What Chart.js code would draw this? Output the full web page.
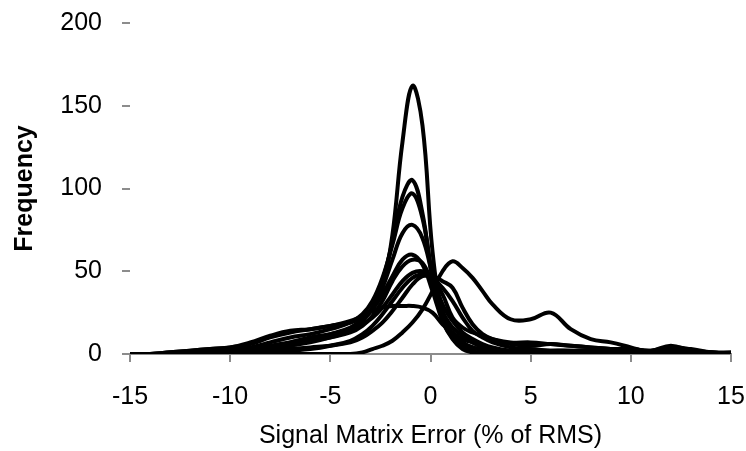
<!DOCTYPE html>
<html>
<head>
<meta charset="utf-8">
<script src="https://cdn.jsdelivr.net/npm/chart.js@4/dist/chart.umd.min.js"></script>
<style>
  html, body { margin: 0; padding: 0; background: #fff; }
  #wrap { width: 746px; height: 451px; }
</style>
</head>
<body>
<div id="wrap"><canvas id="myChart"></canvas></div>
<script>
// error bins (% of RMS)
const xs = [-15, -14, -13, -12, -11, -10, -9, -8, -7, -6, -5, -4,
    -3.4, -2.9, -2.4, -1.9, -1.4, -0.9, -0.4, 0.1, 0.6, 1.1, 1.6, 2.1, 2.6, 3.1,
    4, 5, 6, 7, 8, 9, 10, 11, 12, 13, 14, 15];

// frequency per run
const run1 = [0, 0, 0, 0, 1, 2, 3, 5, 7, 9, 12, 16, 21, 27, 40, 72, 128, 162, 138, 62, 24, 12, 7, 4, 3, 2, 1, 1, 0, 0, 0, 0, 0, 0, 0, 0, 0, 0];
const run2 = [0, 0, 0, 0, 0, 1, 2, 3, 5, 7, 10, 14, 20, 28, 44, 68, 95, 105, 85, 45, 20, 10, 6, 4, 2, 1, 1, 1, 1, 0, 0, 0, 0, 0, 0, 0, 0, 0];
const run3 = [0, 0, 0, 0, 1, 2, 4, 7, 10, 12, 15, 19, 24, 32, 46, 66, 88, 97, 82, 48, 26, 16, 11, 7, 4, 2, 1, 1, 1, 1, 0, 0, 0, 0, 0, 0, 0, 0];
const run4 = [0, 0, 0, 0, 0, 1, 2, 3, 5, 8, 11, 15, 20, 28, 40, 57, 73, 78, 70, 48, 30, 20, 13, 9, 6, 4, 2, 1, 1, 1, 1, 0, 0, 0, 0, 0, 0, 0];
const run5 = [0, 0, 1, 2, 3, 4, 6, 10, 13, 15, 17, 19, 22, 27, 36, 47, 57, 60, 54, 38, 20, 9, 3, 1, 0, 0, 0, 0, 0, 0, 0, 0, 0, 0, 0, 0, 0, 0];
const run6 = [0, 0, 0, 0, 0, 1, 2, 4, 6, 8, 10, 13, 17, 23, 32, 44, 53, 57, 55, 42, 24, 12, 5, 2, 0, 0, 0, 0, 0, 0, 0, 0, 0, 0, 0, 0, 0, 0];
const run7 = [0, 0, 0, 0, 0, 1, 2, 4, 7, 10, 12, 15, 18, 22, 28, 36, 44, 49, 50, 46, 40, 32, 22, 14, 10, 7, 4, 3, 2, 2, 2, 1, 1, 1, 2, 1, 0, 0];
const run8 = [0, 0, 0, 0, 0, 0, 1, 2, 3, 4, 5, 7, 10, 14, 19, 26, 34, 42, 47, 47, 44, 40, 28, 18, 12, 9, 6, 5, 6, 5, 4, 3, 3, 2, 4, 3, 1, 0];
const run9 = [0, 0, 1, 2, 3, 4, 7, 11, 14, 15, 17, 20, 23, 26, 28, 29, 29, 29, 28, 25, 18, 13, 9, 7, 5, 3, 2, 2, 2, 2, 1, 1, 1, 1, 1, 1, 0, 0];
const run10 = [0, 0, 0, 0, 0, 0, 0, 0, 0, 0, 0, 0, 1, 3, 5, 8, 13, 19, 27, 38, 50, 56, 52, 46, 38, 30, 21, 21, 25, 15, 9, 7, 4, 1, 2, 2, 1, 1];
const run11 = [0, 0, 0, 0, 0, 0, 0, 1, 2, 3, 5, 8, 12, 17, 24, 32, 40, 46, 48, 45, 36, 22, 16, 13, 11, 9, 7, 7, 6, 5, 4, 3, 3, 2, 5, 2, 1, 0];

const runs = [run1, run2, run3, run4, run5, run6, run7, run8, run9, run10, run11];

const yTicks = [0, 50, 100, 150, 200];
const xTicks = [-15, -10, -5, 0, 5, 10, 15];

const FONT = 'Liberation Sans';

const datasets = runs.map(function (run, i) {
    return {
        label: 'Run ' + (i + 1),
        data: run.map(function (v, j) { return { x: xs[j], y: v }; }),
        borderColor: '#000',
        borderWidth: 4,
        pointRadius: 0,
        tension: 0.4,
        fill: false
    };
});

const config = {
    type: 'line',
    data: { datasets: datasets },
    options: {
        responsive: true,
        maintainAspectRatio: false,
        animation: false,
        layout: { padding: { top: 23, right: 15, left: 4, bottom: 0 } },
        plugins: { legend: { display: false }, tooltip: { enabled: false } },
        scales: {
            x: {
                type: 'linear',
                min: -15,
                max: 15,
                afterBuildTicks: function (axis) {
                    axis.ticks = xTicks.map(function (v) { return { value: v }; });
                },
                afterFit: function (axis) {
                    axis.height = 97;
                    axis.paddingLeft = 0;
                    axis.paddingRight = 0;
                },
                grid: { display: true, drawOnChartArea: false, drawTicks: true, tickLength: 8, color: '#8c8c8c', lineWidth: 2 },
                border: { display: true, color: '#8c8c8c', width: 2 },
                ticks: { color: '#000', font: { family: FONT, size: 25 }, padding: 20, maxRotation: 0 },
                title: { display: true, text: 'Signal Matrix Error (% of RMS)', color: '#000', font: { family: FONT, size: 25 }, padding: { top: 4, bottom: 0 } }
            },
            y: {
                min: 0,
                max: 200,
                afterBuildTicks: function (axis) {
                    axis.ticks = yTicks.map(function (v) { return { value: v }; });
                },
                afterFit: function (axis) {
                    axis.width = 126;
                    axis.paddingTop = 0;
                    axis.paddingBottom = 0;
                },
                grid: { display: true, drawOnChartArea: false, drawTicks: true, tickLength: 8, color: '#8c8c8c', lineWidth: 2 },
                border: { display: false },
                ticks: { color: '#000', font: { family: FONT, size: 25 }, padding: 20 },
                title: { display: true, text: 'Frequency', color: '#000', font: { family: FONT, size: 25, weight: 'bold' }, padding: { top: 6, bottom: 4 } }
            }
        }
    }
};

const myChart = new Chart(document.getElementById('myChart'), config);
</script>
</body>
</html>
